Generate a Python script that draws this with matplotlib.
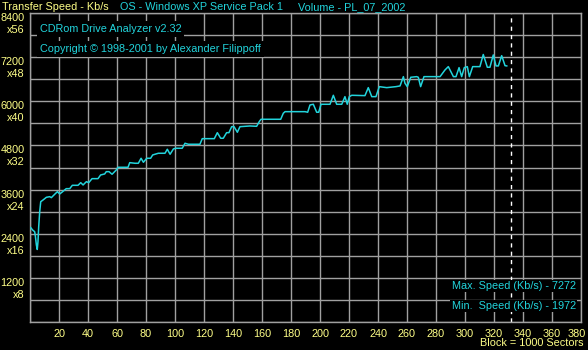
import matplotlib
matplotlib.use("Agg")
import matplotlib.pyplot as plt
from matplotlib.transforms import ScaledTranslation

plt.rcParams['font.family'] = ['Liberation Sans', 'DejaVu Sans']

# transfer speed curve (block number, Kb/s)
blocks = [0.5, 1.8, 3.2, 3.7, 4.4, 5.0, 5.5, 6.0, 6.7, 7.4,
          9.0, 11.3, 13.6, 14.7, 17.0, 18.9, 20.5, 22.8, 25.0, 27.4,
          29.2, 33.1, 35.0, 36.6, 38.9, 40.5, 42.8, 46.9, 48.7, 51.5,
          52.6, 54.5, 56.6, 59.5, 60.7, 67.6, 68.8, 72.4, 74.7, 76.6,
          78.2, 80.5, 83.2, 84.6, 88.5, 93.1, 94.7, 96.6, 98.9, 100.5,
          105.0, 106.9, 109.2, 117.2, 118.8, 127.1, 129.2, 131.5, 133.3, 135.6,
          137.2, 139.1, 140.7, 143.0, 144.8, 151.7, 156.3, 158.1, 159.3, 172.9,
          174.7, 175.9, 189.7, 191.5, 193.1, 195.4, 197.7, 199.1, 200.7, 206.9,
          209.2, 211.5, 215.0, 217.2, 218.8, 220.2, 221.9, 231.0, 233.3, 235.7,
          238.6, 240.9, 246.0, 252.4, 255.2, 257.5, 258.6, 260.2, 262.6, 266.7,
          267.8, 269.4, 271.7, 282.8, 286.2, 288.5, 292.0, 293.8, 295.9, 297.7,
          299.5, 301.6, 303.0, 305.3, 310.3, 312.6, 315.4, 317.2, 319.5, 321.4,
          323.0, 325.3, 327.6, 328.8]
speeds = [2565, 2500, 2455, 2340, 2094, 1972, 2183, 2590, 3000, 3270,
          3317, 3390, 3407, 3380, 3471, 3543, 3480, 3553, 3625, 3625,
          3716, 3716, 3788, 3725, 3815, 3788, 3897, 3897, 3997, 4024,
          4087, 4087, 4016, 4133, 4206, 4206, 4332, 4315, 4315, 4451,
          4342, 4451, 4451, 4541, 4587, 4587, 4696, 4560, 4704, 4723,
          4723, 4859, 4832, 4832, 4984, 4984, 5147, 4995, 4995, 5147,
          5147, 5310, 5310, 5158, 5310, 5329, 5320, 5446, 5511, 5511,
          5675, 5718, 5718, 5702, 5900, 5919, 5702, 5702, 5919, 5919,
          6163, 5919, 5919, 6126, 5919, 6126, 6163, 6154, 6371, 6126,
          6126, 6398, 6371, 6398, 6417, 6670, 6490, 6398, 6653, 6670,
          6653, 6398, 6670, 6670, 6852, 6942, 6670, 6670, 6915, 6670,
          6915, 6942, 6670, 6942, 6942, 7272, 6925, 6925, 7260, 6961,
          6961, 7240, 6969, 6961]

x_ticks = list(range(0, 381, 20))
y_ticks = list(range(0, 8401, 600))
end_block = 332
max_speed = 7272
min_speed = 1972

YELLOW = '#ffff88'
CYAN = '#22d4dc'
GRID = '#a0a0a0'

W, H = 588, 350
fig = plt.figure(figsize=(W / 100, H / 100), dpi=100, facecolor='black')
ax = fig.add_axes([30 / W, 28 / H, 551 / W, 309 / H], facecolor='black')

ax.set_xlim(0, 380)
ax.set_ylim(0, 8400)
ax.set_axisbelow(True)
ax.grid(True, color=GRID, lw=1.0)
for s in ax.spines.values():
    s.set_color(GRID)
    s.set_linewidth(1.0)

fs = 7.8
ax.set_xticks(x_ticks)
ax.set_xticklabels([str(v) if v else '' for v in x_ticks])
ax.set_yticks(y_ticks)
ax.set_yticklabels([f"{v}\nx{v // 150}" if v and v % 1200 == 0 else '' for v in y_ticks])
ax.tick_params(length=0, colors=YELLOW, labelsize=fs)
ax.tick_params(axis='x', pad=5)
ax.tick_params(axis='y', pad=4)
for lbl in ax.get_yticklabels():
    lbl.set_va('top')
    lbl.set_multialignment('right')
    lbl.set_linespacing(1.25)
# keep the last x label inside the picture
last = ax.get_xticklabels()[-1]
last.set_transform(last.get_transform() + ScaledTranslation(-4 / 100, 0, fig.dpi_scale_trans))

ax.plot(blocks, speeds, color=CYAN, lw=1.1, zorder=3)
ax.axvline(end_block, color='white', lw=1.0, ls=(0, (3, 3)), zorder=2)

fig.text(2 / W, 1 - 2 / H, 'Transfer Speed - Kb/s', color=YELLOW, fontsize=fs, va='top')
fig.text(120 / W, 1 - 2 / H, 'OS - Windows XP Service Pack 1', color=CYAN, fontsize=fs, va='top')
fig.text(298 / W, 1 - 2 / H, 'Volume - PL_07_2002', color=CYAN, fontsize=fs, va='top')

box = dict(facecolor='black', edgecolor='none', pad=2)
fig.text(40 / W, 1 - 24 / H, 'CDRom Drive Analyzer v2.32', color=CYAN, fontsize=fs,
         va='top', bbox=box)
fig.text(40 / W, 1 - 44 / H, 'Copyright \u00a9 1998-2001 by Alexander Filippoff', color=CYAN,
         fontsize=fs, va='top', bbox=box)

fig.text(576 / W, 1 - 281 / H, f'Max. Speed (Kb/s) - {max_speed}', color=CYAN, fontsize=fs,
         va='top', ha='right', bbox=dict(facecolor='black', edgecolor='none', pad=1))
fig.text(576 / W, 1 - 301 / H, f'Min.  Speed (Kb/s) - {min_speed}', color=CYAN, fontsize=fs,
         va='top', ha='right', bbox=dict(facecolor='black', edgecolor='none', pad=1))
fig.text(584 / W, 1 - 338 / H, 'Block = 1000 Sectors', color=YELLOW, fontsize=fs,
         va='top', ha='right')

fig.savefig('out.png', dpi=100, facecolor='black')
